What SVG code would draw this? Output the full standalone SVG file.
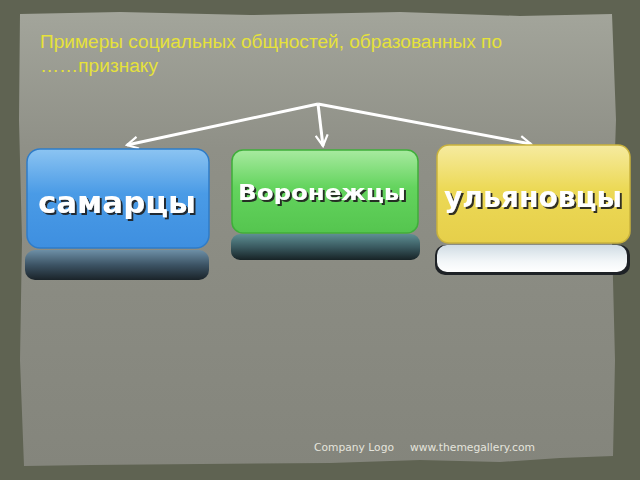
<svg xmlns="http://www.w3.org/2000/svg" width="640" height="480" viewBox="0 0 640 480">
<defs>
<linearGradient id="paper" x1="0" y1="0" x2="0" y2="1">
<stop offset="0" stop-color="#a3a59b"/><stop offset="0.3" stop-color="#8f9087"/><stop offset="1" stop-color="#84857c"/>
</linearGradient>
<linearGradient id="blue" x1="0" y1="0" x2="0" y2="1">
<stop offset="0" stop-color="#8cc4f2"/><stop offset="0.45" stop-color="#4a9be6"/><stop offset="1" stop-color="#3e8fe0"/>
</linearGradient>
<linearGradient id="green" x1="0" y1="0" x2="0" y2="1">
<stop offset="0" stop-color="#a8eaa0"/><stop offset="0.45" stop-color="#64d45e"/><stop offset="1" stop-color="#55c54f"/>
</linearGradient>
<linearGradient id="yellow" x1="0" y1="0" x2="0" y2="1">
<stop offset="0" stop-color="#f6eba0"/><stop offset="0.45" stop-color="#ecd956"/><stop offset="1" stop-color="#e6cf4a"/>
</linearGradient>
<linearGradient id="slabDark" x1="0" y1="0" x2="0" y2="1">
<stop offset="0" stop-color="#6d8fa6"/><stop offset="0.5" stop-color="#3c5364"/><stop offset="1" stop-color="#1a2329"/>
</linearGradient>
<linearGradient id="slabTeal" x1="0" y1="0" x2="0" y2="1">
<stop offset="0" stop-color="#5e8f93"/><stop offset="0.5" stop-color="#3a5a60"/><stop offset="1" stop-color="#172326"/>
</linearGradient>
<linearGradient id="slabLight" x1="0" y1="0" x2="0" y2="1">
<stop offset="0" stop-color="#d0dce4"/><stop offset="0.6" stop-color="#f2f6f8"/><stop offset="1" stop-color="#ffffff"/>
</linearGradient>
<marker id="arr" viewBox="0 0 14 14" refX="12" refY="7" markerWidth="14" markerHeight="14" markerUnits="userSpaceOnUse" orient="auto">
<path d="M1,1 L12,7 L1,13" fill="none" stroke="#ffffff" stroke-width="2.2"/>
</marker>
<filter id="sh" x="-10%" y="-10%" width="120%" height="130%">
<feDropShadow dx="2" dy="2" stdDeviation="0.6" flood-color="#1a1a1a" flood-opacity="0.9"/>
</filter>
</defs>
<style>
.lbl{font-family:"DejaVu Sans",sans-serif;font-weight:bold;fill:#ffffff;text-anchor:middle;filter:url(#sh)}
.title{font-family:"Liberation Sans Narrow","Liberation Sans",sans-serif;fill:#e6e23a;font-size:18px}
.foot{font-family:"DejaVu Sans",sans-serif;font-size:10.5px;fill:#e4e4dc}
.conn{stroke:#ffffff;stroke-width:3;fill:none}
</style>
<rect width="640" height="480" fill="#5f6352"/>
<path d="M20,14 L120,12 L250,15 L400,12 L520,16 L612,14 L616,120 L612,240 L615,360 L613,456 L560,458 L500,462 L420,460 L330,463 L200,464 L90,465 L24,466 L20,360 L22,240 L19,120 Z" fill="url(#paper)"/>
<text class="title" x="40" y="48" textLength="462" lengthAdjust="spacingAndGlyphs">Примеры социальных общностей, образованных по</text>
<text class="title" x="40" y="72" textLength="118" lengthAdjust="spacingAndGlyphs">……признаку</text>
<g id="connectors">
<line class="conn" x1="318" y1="104" x2="127" y2="145" marker-end="url(#arr)"/>
<line class="conn" x1="318" y1="104" x2="323" y2="146" marker-end="url(#arr)"/>
<line class="conn" x1="318" y1="104" x2="531" y2="144" marker-end="url(#arr)"/>
</g>
<g id="samartsy">
<rect x="25" y="250" width="184" height="30" rx="10" fill="url(#slabDark)"/>
<rect x="27" y="149" width="182" height="99" rx="13" fill="url(#blue)" stroke="#2f7cc8" stroke-width="1.5"/>
<text class="lbl" x="117" y="213" font-size="30" textLength="158" lengthAdjust="spacingAndGlyphs">самарцы</text>
</g>
<g id="voronezhtsy">
<rect x="231" y="234" width="189" height="26" rx="9" fill="url(#slabTeal)"/>
<rect x="232" y="150" width="186" height="83" rx="11" fill="url(#green)" stroke="#3fae3a" stroke-width="1.5"/>
<text class="lbl" x="322" y="200" font-size="22" textLength="168" lengthAdjust="spacingAndGlyphs">Воронежцы</text>
</g>
<g id="ulyanovtsy">
<rect x="435" y="245" width="195" height="30" rx="10" fill="#1e2226"/>
<rect x="437" y="245" width="190" height="27" rx="10" fill="url(#slabLight)"/>
<rect x="437" y="145" width="193" height="98" rx="12" fill="url(#yellow)" stroke="#c9b23c" stroke-width="1.5"/>
<text class="lbl" x="533" y="207" font-size="28" textLength="178" lengthAdjust="spacingAndGlyphs">ульяновцы</text>
</g>
<text class="foot" x="314" y="451" textLength="80" lengthAdjust="spacingAndGlyphs">Company Logo</text>
<text class="foot" x="410" y="451" textLength="125" lengthAdjust="spacingAndGlyphs">www.themegallery.com</text>
</svg>
